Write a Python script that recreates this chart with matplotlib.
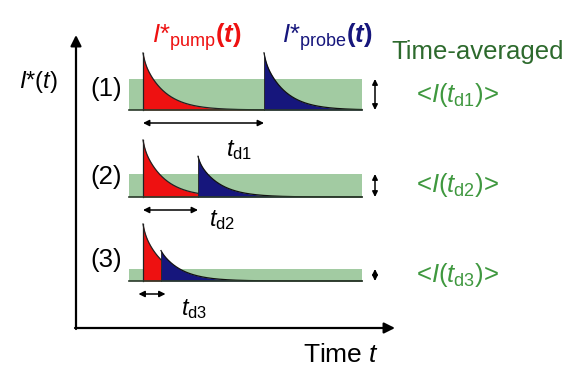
import numpy as np
import matplotlib
matplotlib.use('Agg')
import matplotlib.pyplot as plt

plt.rcParams['font.family'] = ['Liberation Sans', 'DejaVu Sans']
plt.rcParams['mathtext.fontset'] = 'custom'
plt.rcParams['mathtext.rm'] = 'Liberation Sans'
plt.rcParams['mathtext.it'] = 'Liberation Sans:italic'
plt.rcParams['mathtext.bf'] = 'Liberation Sans:bold'
plt.rcParams['mathtext.bfit'] = 'Liberation Sans:italic:bold'

# ---- schematic data ----
row_labels = ['(1)', '(2)', '(3)']
delay_labels = [r'$t_{\mathrm{d1}}$', r'$t_{\mathrm{d2}}$', r'$t_{\mathrm{d3}}$']
avg_labels = [r'<$I(t_{\mathrm{d1}})$>', r'<$I(t_{\mathrm{d2}})$>', r'<$I(t_{\mathrm{d3}})$>']
delays = [121, 55, 18]            # probe delay (time units)
probe_amp = [1.0, 0.65, 0.16]     # relative probe amplitude
avg_level = [31, 23, 12]          # time-averaged intensity
baselines = [110, 197, 281]       # row baselines
pump_amp = 57
tau_slow, tau_fast = 21.0, 2.0
t_pump = 143
t_start, t_end = 129, 362

RED = '#ee1111'
NAVY = '#16167c'
BAND = '#a2cba2'
DKGREEN = '#2d6a2d'
GREEN = '#3f983f'


def pulse(t, t0, amp):
    dt = t - t0
    v = amp * (0.88 * np.exp(-dt / tau_slow) + 0.12 * np.exp(-dt / tau_fast))
    return np.where(dt >= 0, v, 0.0)


fig = plt.figure(figsize=(5.71, 3.67), dpi=100)
ax = fig.add_axes([0, 0, 1, 1])
ax.set_xlim(0, 571)
ax.set_ylim(367, 0)
ax.axis('off')

# axes arrows
ax.annotate('', xy=(76, 35), xytext=(76, 329),
            arrowprops=dict(arrowstyle='-|>', color='black', lw=1.6, mutation_scale=16,
                            shrinkA=0, shrinkB=0))
ax.annotate('', xy=(395, 328), xytext=(75, 328),
            arrowprops=dict(arrowstyle='-|>', color='black', lw=1.6, mutation_scale=16,
                            shrinkA=0, shrinkB=0))

row_label_y = [89, 177, 260]
avg_label_y = [95, 185, 275]
delay_label_pos = [(239, 150), (222, 220), (194, 309)]

for i in range(3):
    base = baselines[i]
    tp = t_pump + delays[i]
    # time-averaged band
    ax.fill_between([t_start, t_end], base, base - avg_level[i], color=BAND, lw=0, zorder=1)
    ax.plot([t_start, t_end], [base, base], color='#2a3a2a', lw=1.2, zorder=4)

    t1 = np.linspace(t_pump, tp, 300)
    t2 = np.linspace(tp, t_end, 600)
    tot1 = pulse(t1, t_pump, pump_amp)
    tot2 = pulse(t2, t_pump, pump_amp) + pulse(t2, tp, pump_amp * probe_amp[i])
    ax.fill_between(t1, base, base - tot1, color=RED, lw=0, zorder=2)
    ax.fill_between(t2, base, base - tot2, color=NAVY, lw=0, zorder=2)
    ax.plot(t1, base - tot1, color='#222222', lw=0.9, zorder=3)
    ax.plot(t2, base - tot2, color='#111111', lw=0.9, zorder=3)
    ax.plot([t_pump, t_pump], [base, base - tot1[0]], color='#222222', lw=0.9, zorder=3)
    ax.plot([tp, tp], [base, base - tot2[0]], color='#222222', lw=0.6, zorder=3)

    # delay arrow
    pad = max(0, (27 - delays[i]) / 2)
    ya = base + 13
    ax.annotate('', xy=(tp + pad, ya), xytext=(t_pump - pad, ya),
                arrowprops=dict(arrowstyle='<|-|>', color='black', lw=1.1, mutation_scale=9,
                                shrinkA=0, shrinkB=0))
    # vertical average arrow
    ax.annotate('', xy=(375, base - avg_level[i]), xytext=(375, base),
                arrowprops=dict(arrowstyle='<|-|>', color='black', lw=1.1, mutation_scale=8,
                                shrinkA=0, shrinkB=0))

    ax.text(106, row_label_y[i], row_labels[i], fontsize=18.5,
            ha='center', va='center', color='black')
    ax.text(457, avg_label_y[i], avg_labels[i], fontsize=18.5,
            ha='center', va='center', color=GREEN)
    ax.text(*delay_label_pos[i], delay_labels[i], fontsize=17, ha='center', va='center')

# titles
ax.text(197, 37, r'$I$*${}_{\mathrm{pump}}$$\mathbf{(}\mathbfit{t}\mathbf{)}$',
        fontsize=18.5, color=RED, ha='center', va='center')
ax.text(327, 37, r'$I$*${}_{\mathrm{probe}}$$\mathbf{(}\mathbfit{t}\mathbf{)}$',
        fontsize=18.5, color=NAVY, ha='center', va='center')
ax.text(478, 52, 'Time-averaged', fontsize=18.5, color=DKGREEN, ha='center', va='center')
ax.text(38, 82, r'$I$*($t$)', fontsize=17, color='black', ha='center', va='center')
ax.text(341, 355, r'Time $t$', fontsize=19, color='black', ha='center', va='center')

fig.savefig('out.png', dpi=100)
